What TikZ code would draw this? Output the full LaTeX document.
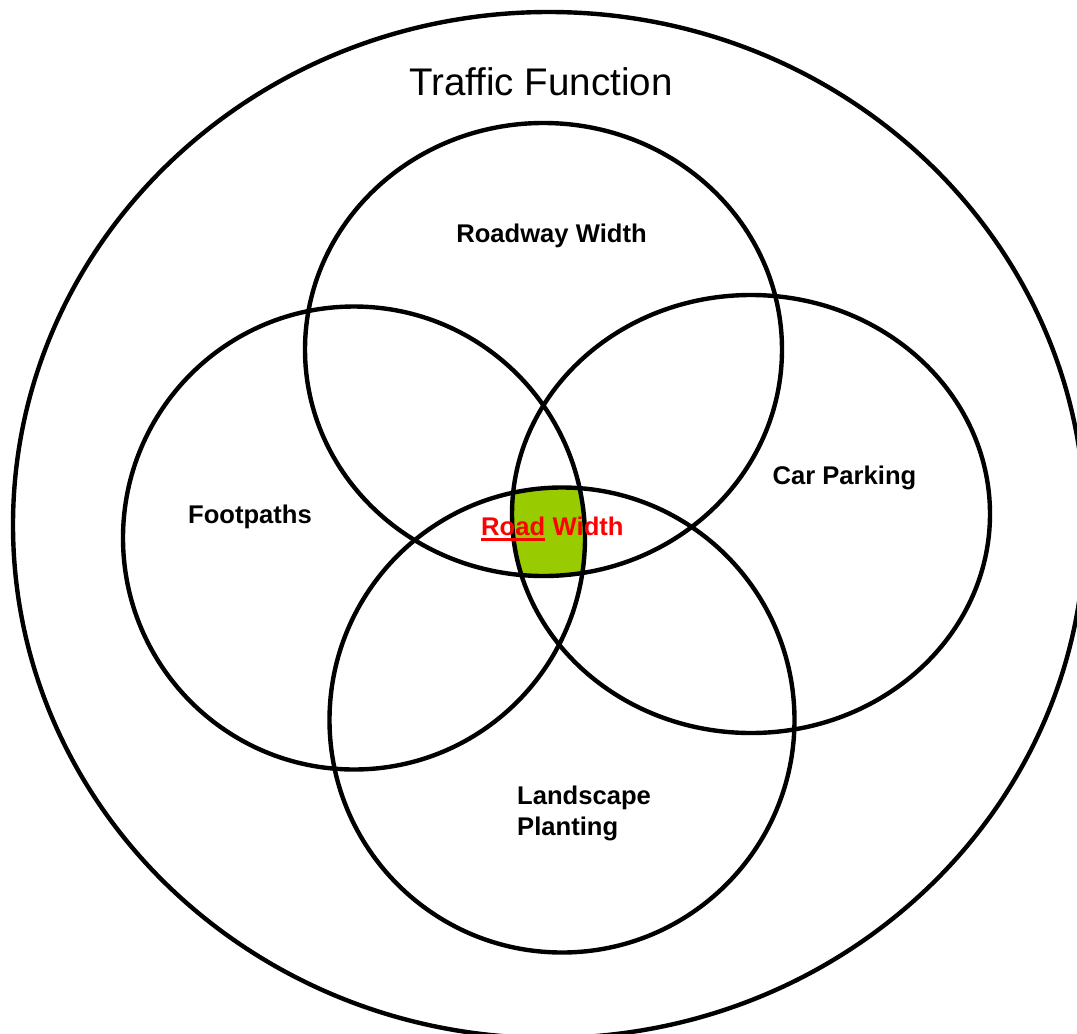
\documentclass[tikz,border=0pt]{standalone}
\usepackage{fontspec}
\setmainfont{Liberation Sans}
\definecolor{leaf}{HTML}{99CC00}
\begin{document}
\begin{tikzpicture}[x=1pt,y=-1pt,
  ring/.style={draw=black, line width=4.4pt},
  lbl/.style={font=\fontsize{25.6}{29}\selectfont\bfseries, inner sep=0pt},
  redlbl/.style={lbl, text=red}]
\useasboundingbox (0,0) rectangle (1077,1034);
\clip (0,0) rectangle (1077,1034);
% green intersection
\begin{scope}
  \clip (543.5,349.5) ellipse [x radius=238.5, y radius=226.5];
  \clip (354,538) ellipse [x radius=231, y radius=231.5];
  \clip (751,514) ellipse [x radius=239, y radius=219];
  \fill[leaf] (562,720) ellipse [x radius=232.5, y radius=232.5];
\end{scope}
\draw[ring] (549,525) ellipse [x radius=536, y radius=513];
\draw[ring] (543.5,349.5) ellipse [x radius=238.5, y radius=226.5];
\draw[ring] (354,538) ellipse [x radius=231, y radius=231.5];
\draw[ring] (751,514) ellipse [x radius=239, y radius=219];
\draw[ring] (562,720) ellipse [x radius=232.5, y radius=232.5];
% labels
\node[anchor=base, inner sep=0pt, font=\fontsize{38.5}{44}\selectfont] (tf) at (541,95) {Traffic Function};
\node[lbl, anchor=base] (rw) at (551.5,242) {Roadway Width};
\node[lbl, anchor=base] (fp) at (250,523) {Footpaths};
\node[lbl, anchor=base] (cp) at (844.5,484) {Car Parking};
\node[lbl, font=\fontsize{25.6}{31}\selectfont\bfseries, anchor=base west, align=left] (lp) at (517,835) {Landscape\\Planting};
\node[redlbl, anchor=base west] (road) at (481,535) {Road};
\node[redlbl, anchor=base west] (width) at (road.base east) {\hspace*{0.278em}Width};
\draw[red, line width=3pt] ([yshift=-4.5pt]road.base west) -- ([yshift=-4.5pt]road.base east);
\end{tikzpicture}
\end{document}
